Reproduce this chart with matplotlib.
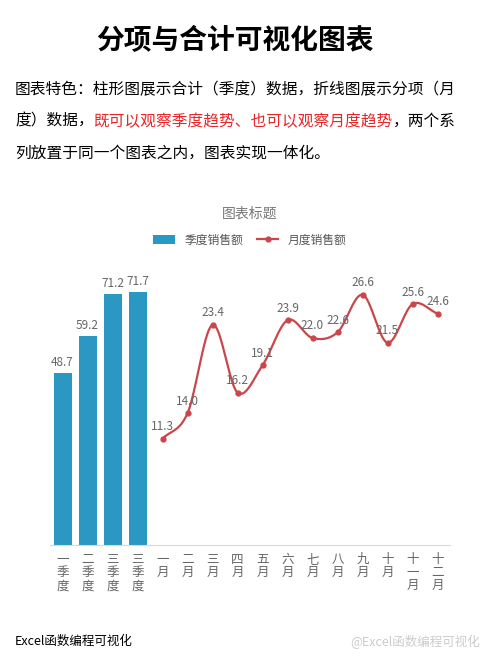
import matplotlib
matplotlib.use("Agg")
import matplotlib.pyplot as plt
from matplotlib.text import Annotation
import numpy as np

plt.rcParams["font.family"] = ["Noto Sans CJK SC", "DejaVu Sans"]

categories = ["一季度", "二季度", "三季度", "三季度",
              "一月", "二月", "三月", "四月", "五月", "六月",
              "七月", "八月", "九月", "十月", "十一月", "十二月"]
quarter_sales = [48.7, 59.2, 71.2, 71.7]
month_sales = [11.3, 14.0, 23.4, 16.2, 19.1, 23.9, 22.0, 22.6, 26.6, 21.5, 25.6, 24.6]

BAR = "#2b97c3"
LINE = "#c9474b"
GRAY = "#666666"


def catmull_rom(x, y, n=20):
    x = np.asarray(x, float)
    y = np.asarray(y, float)
    px = np.concatenate([[2 * x[0] - x[1]], x, [2 * x[-1] - x[-2]]])
    py = np.concatenate([[2 * y[0] - y[1]], y, [2 * y[-1] - y[-2]]])
    xs, ys = [], []
    t = np.linspace(0, 1, n, endpoint=False)
    for i in range(1, len(px) - 2):
        for p, out in ((px, xs), (py, ys)):
            p0, p1, p2, p3 = p[i - 1:i + 3]
            out.extend(0.5 * (2 * p1 + (-p0 + p2) * t
                              + (2 * p0 - 5 * p1 + 4 * p2 - p3) * t ** 2
                              + (-p0 + 3 * p1 - 3 * p2 + p3) * t ** 3))
    xs.append(x[-1])
    ys.append(y[-1])
    return np.array(xs), np.array(ys)


fig = plt.figure(figsize=(5, 6.67), dpi=100)
fig.patch.set_facecolor("white")

fig.text(0.47, 0.938, "分项与合计可视化图表", ha="center", va="center",
         fontsize=20, fontweight="bold", color="black")

fs = 11.3
lines_y = [0.865, 0.818, 0.771]
fig.text(0.03, lines_y[0], "图表特色：柱形图展示合计（季度）数据，折线图展示分项（月",
         fontsize=fs, va="center")
t1 = fig.text(0.03, lines_y[1], "度）数据，", fontsize=fs, va="center")
t2 = Annotation("既可以观察季度趋势、也可以观察月度趋势", xy=(1, 0.5), xycoords=t1,
                va="center", ha="left", fontsize=fs, color="#e8262a")
fig.add_artist(t2)
fig.add_artist(Annotation("，两个系", xy=(1, 0.5), xycoords=t2, va="center",
                          ha="left", fontsize=fs))
fig.text(0.03, lines_y[2], "列放置于同一个图表之内，图表实现一体化。", fontsize=fs, va="center")

ax = fig.add_axes([0.10, 0.183, 0.80, 0.423])
ax2 = ax.twinx()
x = np.arange(len(categories))
qx = x[:4]
mx = x[4:]

bars = ax.bar(qx, quarter_sales, width=0.72, color=BAR, label="季度销售额", zorder=2)
for xi, v in zip(qx, quarter_sales):
    ax.text(xi, v + 1.2, f"{v:.1f}", ha="center", va="bottom", fontsize=8.5, color=GRAY)

sx, sy = catmull_rom(mx, month_sales)
ax2.plot(sx, sy, color=LINE, lw=1.6, zorder=3)
ax2.plot(mx, month_sales, "o", color=LINE, ms=3.5, zorder=4)
ln, = ax2.plot([], [], color=LINE, lw=1.6, marker="o", ms=3.5, label="月度销售额")
for xi, v in zip(mx, month_sales):
    ax2.text(xi, v + 0.6, f"{v:.1f}", ha="center", va="bottom", fontsize=8.5, color=GRAY)

ax.set_xlim(-0.5, len(categories) - 0.5)
ax.set_ylim(0, 80)
ax2.set_ylim(0, 30)
ax.set_yticks([])
ax2.set_yticks([])
ax.set_xticks(x)
ax.set_xticklabels(["\n".join(c) for c in categories], fontsize=9, color=GRAY,
                   linespacing=1.0)
ax.tick_params(axis="x", length=0, pad=6)
for a in (ax, ax2):
    for s in ("top", "right", "left"):
        a.spines[s].set_visible(False)
ax.spines["bottom"].set_color("#d9d9d9")
ax2.spines["bottom"].set_visible(False)

fig.text(0.5, 0.68, "图表标题", ha="center", va="center", fontsize=10, color="#777777")
fig.legend([bars, ln], ["季度销售额", "月度销售额"], loc="center",
           bbox_to_anchor=(0.5, 0.64), ncol=2, frameon=False, fontsize=8.5,
           labelcolor="#555555", handlelength=1.8, columnspacing=1.2)

fig.text(0.03, 0.038, "Excel函数编程可视化", fontsize=9, va="center", color="black")
fig.text(0.96, 0.038, "@Excel函数编程可视化", fontsize=9, va="center", ha="right",
         color="#cccccc")

fig.savefig("out.png", dpi=100, facecolor="white")
